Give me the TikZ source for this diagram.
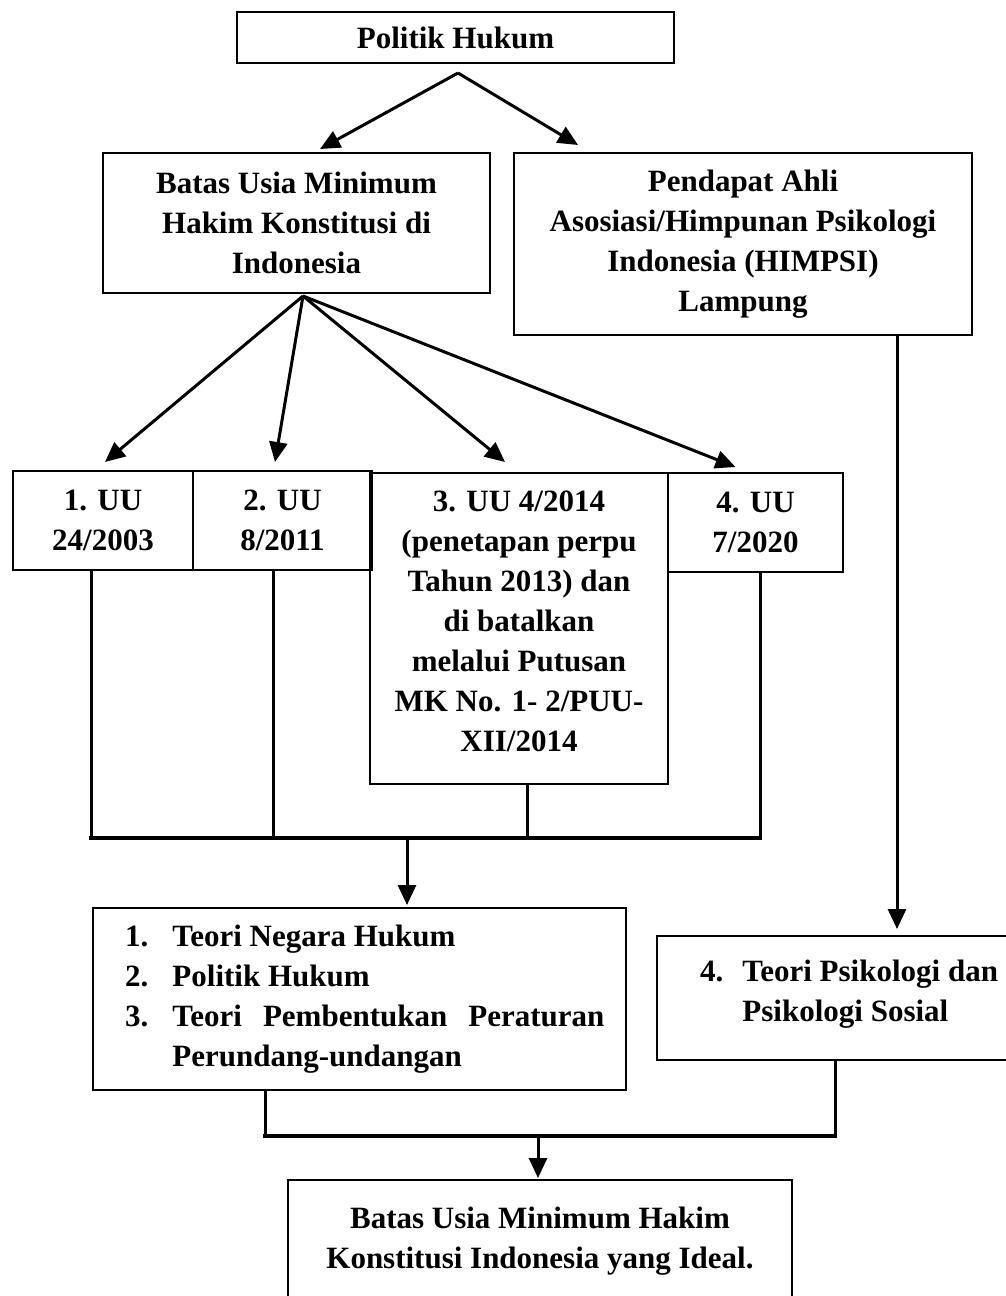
\documentclass[tikz,border=0pt]{standalone}
\usepackage{fontspec}
\setmainfont{Liberation Serif}
\usetikzlibrary{arrows.meta,calc}
\begin{document}
\begin{tikzpicture}[x=1pt,y=-1pt,
  every node/.style={font=\fontsize{31}{40}\selectfont\bfseries},
  box/.style={draw,line width=2pt,inner sep=0pt,align=center},
  txt/.style={inner sep=0pt,align=center},
  conn/.style={line width=3pt},
  bus/.style={line width=4.5pt},
  arr/.style={line width=3pt,-{Triangle[length=20pt,width=18pt]}}]
\useasboundingbox (0,0) rectangle (1005,1296);
% boxes
\node[box,minimum width=437pt,minimum height=51pt] (politik) at (455.5,37.5) {Politik Hukum};
\node[box,minimum width=387pt,minimum height=140pt] (batas) at (296.5,223) {Batas Usia Minimum\\Hakim Konstitusi di\\Indonesia};
\node[box,minimum width=458pt,minimum height=182pt] (pendapat) at (743,244) {Pendapat Ahli\\Asosiasi/Himpunan Psikologi\\Indonesia (HIMPSI)\\Lampung};
\node[box,minimum width=180pt,minimum height=99pt] (u1) at (103,520.5) {1. UU\\24/2003};
\node[box,minimum width=179pt,minimum height=99pt] (u2) at (282.5,520.5) {2. UU\\8/2011};
\node[box,minimum width=298pt,minimum height=311pt] (u3) at (519,628.5) {};
\node[txt] (u3t) at (519,621) {3. UU 4/2014\\(penetapan perpu\\Tahun 2013) dan\\di batalkan\\melalui Putusan\\MK No. 1- 2/PUU-\\XII/2014};
\node[box,minimum width=175pt,minimum height=99pt] (u4) at (755.5,522.5) {4. UU\\7/2020};
\node[box,minimum width=533pt,minimum height=182pt] (teori) at (359.5,999) {};
\node[txt,anchor=west,align=left] (teorit) at (125,998) {\begin{tabular}{@{}l@{\hspace{24pt}}l@{}}1. & Teori Negara Hukum\\2. & Politik Hukum\\3. & \makebox[432pt][s]{Teori Pembentukan Peraturan}\\ & Perundang-undangan\end{tabular}};
\node[box,minimum width=355pt,minimum height=124pt] (psi) at (834.5,998) {};
\node[txt,anchor=west,align=left] (psit) at (700,993) {\begin{tabular}{@{}l@{\hspace{19pt}}l@{}}4. & Teori Psikologi dan\\ & Psikologi Sosial\end{tabular}};
\node[box,minimum width=504pt,minimum height=122pt] (final) at (540,1241) {Batas Usia Minimum Hakim\\Konstitusi Indonesia yang Ideal.};
% top arrows
\coordinate (ps) at ($(politik.south)+(2.5,9)$);
\draw[arr] (ps) -- ($(batas.north)+(23.5,-3)$);
\draw[arr] (ps) -- ($(pendapat.north)+(-165,-7)$);
% fan
\coordinate (bs) at ($(batas.south)+(6.5,2)$);
\draw[arr] (bs) -- ($(u1.north)+(2,-8)$);
\draw[arr] (bs) -- ($(u2.north)+(-7.5,-8)$);
\draw[arr] (bs) -- ($(u3.north)+(-14,-10)$);
\draw[arr] (bs) -- ($(u4.north)+(-20,-5)$);
% bus 1
\coordinate (busL) at ($(u1.south)+(-12,267)$);
\coordinate (busR) at ($(u4.south)+(4.5,265)$);
\draw[conn] ($(u1.south)+(-12,0)$) -- (busL);
\draw[conn] ($(u2.south)+(-9.5,0)$) -- ($(u2.south)+(-9.5,267)$);
\draw[conn] ($(u3.south)+(8,0)$) -- ($(u3.south)+(8,53)$);
\draw[conn] ($(u4.south)+(4.5,0)$) -- (busR);
\draw[bus,line cap=rect] (busL) -- (busR);
\draw[arr] ($(teori.north)+(47.5,-71)$) -- ($(teori.north)+(47.5,-2)$);
% right line
\draw[arr] ($(pendapat.south)+(154,0)$) -- ($(psi.north)+(62.5,-6)$);
% bus 2
\coordinate (b2L) at ($(teori.south)+(-94.5,45)$);
\coordinate (b2R) at ($(psi.south)+(0.5,75)$);
\draw[conn] ($(teori.south)+(-94.5,0)$) -- (b2L);
\draw[conn] ($(psi.south)+(0.5,0)$) -- (b2R);
\draw[bus,line cap=rect] (b2L) -- (b2R);
\draw[arr] ($(final.north)+(-2,-45)$) -- ($(final.north)+(-2,-1)$);
\end{tikzpicture}
\end{document}
